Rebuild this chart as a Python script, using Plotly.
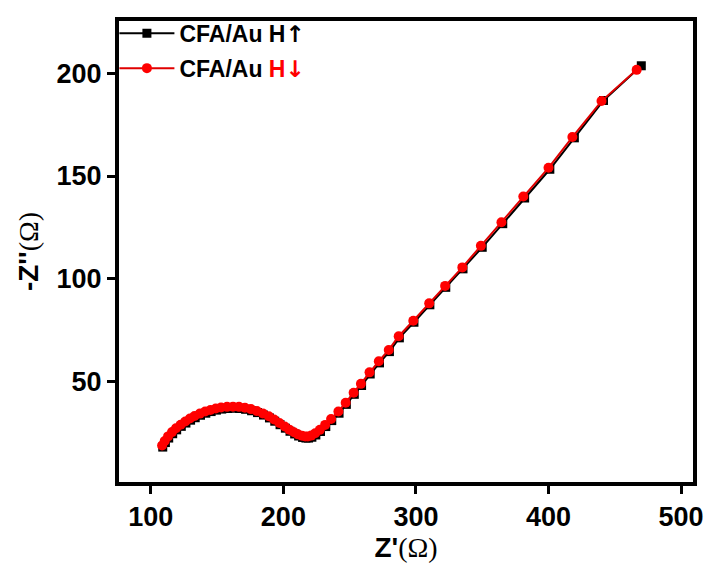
import plotly.graph_objects as go

# Red series: CFA/Au H(down)
red_x = [108.5, 110.5, 113, 116, 119, 122.5, 126, 129.5, 133, 137, 141, 145, 149, 153,
         157.5, 162, 166.5, 171, 175.5, 180, 184.5, 189, 193, 197, 201, 204.5, 208, 211,
         214, 216.5, 218.5, 221, 224, 227.5, 231.5, 236, 241.5, 247, 253, 258.5, 265,
         272, 279.5, 287, 298, 310, 322, 335, 349, 364.5, 381, 400, 418, 440, 466.5]
red_y = [18.8, 21.0, 23.2, 25.3, 27.2, 28.9, 30.5, 31.9, 33.1, 34.3, 35.3, 36.1, 36.8, 37.3,
         37.6, 37.7, 37.6, 37.2, 36.5, 35.6, 34.4, 33.0, 31.4, 29.7, 28.0, 26.5, 25.2, 24.2,
         23.5, 23.2, 23.2, 23.6, 24.7, 26.4, 28.8, 31.7, 35.3, 39.6, 44.5, 48.8, 54.4,
         59.8, 65.3, 72.0, 79.5, 88.0, 96.5, 105.5, 116.0, 127.5, 140.0, 154.0, 169.0, 186.5, 201.7]

# Black series: CFA/Au H(up)
black_x = [109, 111, 113.5, 116.5, 119.5, 123, 126.5, 130, 133.5, 137.5, 141.5, 145.5, 149.5, 153.5,
           158, 162.5, 167, 171.5, 176, 180.5, 185, 189.5, 193.5, 197.5, 201.5, 205, 208.5, 211.5,
           214.5, 217, 219, 221.5, 224.5, 228, 232, 236.5, 242, 247.5, 253.5, 259, 265.5,
           272.5, 280, 287.5, 298.5, 310.5, 322.5, 335.5, 350, 365.5, 382, 401, 419.5, 441.5, 470]
black_y = [18.0, 20.2, 22.4, 24.5, 26.4, 28.1, 29.7, 31.1, 32.3, 33.5, 34.5, 35.3, 36.0, 36.5,
           36.8, 36.9, 36.8, 36.4, 35.7, 34.8, 33.6, 32.2, 30.6, 28.9, 27.2, 25.7, 24.4, 23.4,
           22.7, 22.4, 22.4, 22.8, 23.9, 25.6, 28.0, 30.9, 34.5, 38.8, 43.7, 48.0, 53.6,
           59.0, 64.5, 71.2, 78.8, 87.3, 95.8, 104.8, 115.3, 126.8, 139.3, 153.3, 168.6, 186.8, 203.7]

x_ticks = [100, 200, 300, 400, 500]
y_ticks = [50, 100, 150, 200]

FONT = "Liberation Sans, Arial, sans-serif"

fig = go.Figure()
fig.add_trace(go.Scatter(
    x=black_x, y=black_y, mode="lines+markers",
    name="<b>CFA/Au H<span style='font-family:DejaVu Sans'>↑</span></b>", legendgroup="a",
    line=dict(color="black", width=2),
    marker=dict(symbol="square", size=9, color="black"),
))
fig.add_trace(go.Scatter(
    x=red_x, y=red_y, mode="lines+markers",
    name="<b>CFA/Au <span style='color:#ff0000'>H<span style='font-family:DejaVu Sans'>↓</span></span></b>",
    legendgroup="b",
    line=dict(color="#e00000", width=2),
    marker=dict(symbol="circle", size=10, color="#ff0000"),
))

axis_common = dict(
    showgrid=False, zeroline=False, showline=True, linecolor="black", linewidth=4,
    mirror=True, ticks="outside", ticklen=8, tickwidth=3, tickcolor="black",
    tickfont=dict(family=FONT, size=27, color="black", weight="bold"),
    automargin=False,
)

fig.update_layout(
    width=708, height=565,
    margin=dict(l=119, r=15, t=17, b=83),
    paper_bgcolor="white", plot_bgcolor="white",
    font=dict(family=FONT, color="black"),
    xaxis=dict(
        range=[76, 509], tickvals=x_ticks, ticktext=[str(v) for v in x_ticks],
        title=dict(text="<b>Z'</b><span style='font-family:Liberation Serif'>(Ω)</span>",
                   font=dict(family=FONT, size=28, color="black"), standoff=6),
        **axis_common,
    ),
    yaxis=dict(
        range=[1, 225.5], tickvals=y_ticks, ticktext=[str(v) for v in y_ticks],
        title=dict(text="<b>-Z''</b><span style='font-family:Liberation Serif'>(Ω)</span>",
                   font=dict(family=FONT, size=28, color="black"), standoff=11),
        **axis_common,
    ),
    legend=dict(
        x=-0.008, y=1.02, xanchor="left", yanchor="top",
        bgcolor="rgba(0,0,0,0)", borderwidth=0,
        font=dict(family=FONT, size=23, color="black"),
        itemwidth=55, tracegroupgap=2,
    ),
    showlegend=True,
)

fig.write_html("out.html", config={"displayModeBar": False},
               post_script="document.body.style.margin='0';")
